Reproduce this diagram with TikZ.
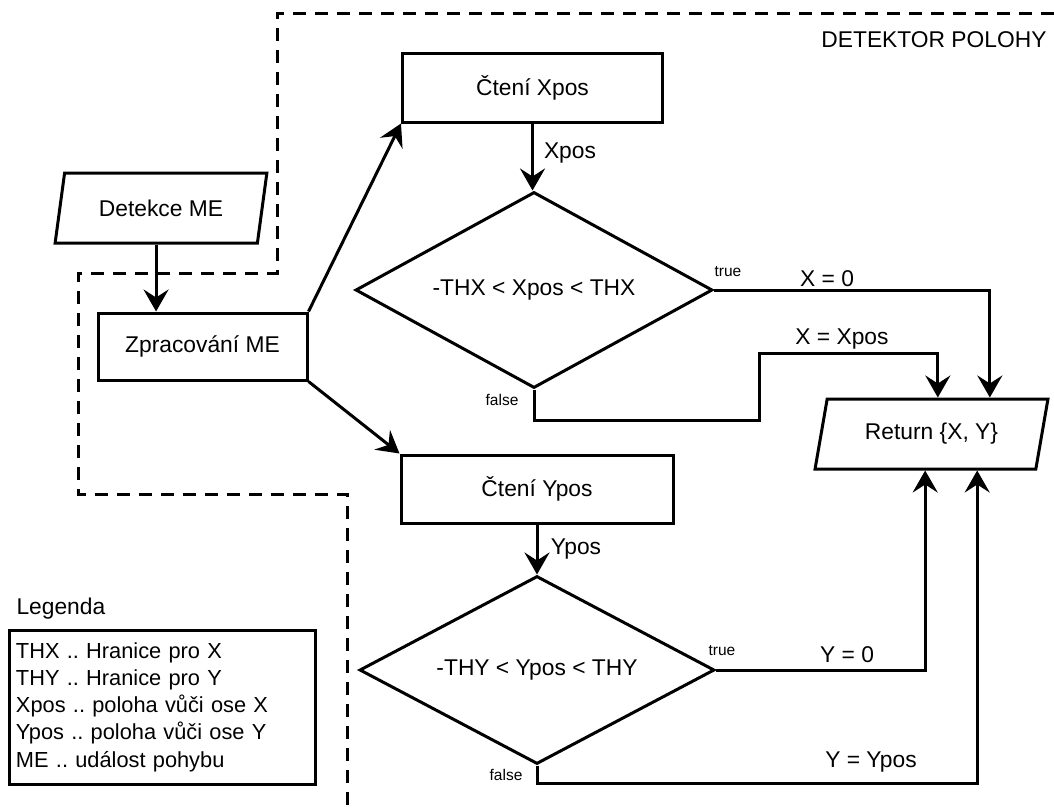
\documentclass[tikz,border=0pt]{standalone}
\usepackage{fontspec}
\setmainfont{Liberation Sans}
\usetikzlibrary{shapes.geometric,arrows.meta,calc}
\begin{document}
\frenchspacing
\begin{tikzpicture}[x=1pt,y=-1pt,
  line width=3pt,
  every node/.style={font=\fontsize{22.8}{27}\selectfont},
  box/.style={draw,rectangle,inner sep=0pt},
  io/.style={draw,trapezium,trapezium left angle=70,trapezium right angle=110,trapezium stretches=true,inner sep=0pt},
  decision/.style={draw,diamond,aspect=1.8,inner sep=0pt},
  lbl/.style={inner sep=0pt},
  small/.style={inner sep=0pt,font=\fontsize{15.5}{18}\selectfont},
  legendtext/.style={font=\fontsize{21.8}{27.2}\selectfont},
  arr/.style={-{Stealth[length=22pt,width=25pt,inset=8pt]}},
  border/.style={dash pattern=on 13pt off 9pt}]
\useasboundingbox (0,0) rectangle (1054,809);

% dashed boundary
\draw[border] (1054,13) -- (277,13) -- (277,273) -- (78,273) -- (78,494) -- (347,494) -- (347,809);
\node[lbl,anchor=east] (title) at (1048,40) {DETEKTOR POLOHY};

% nodes
\node[io,minimum width=212,minimum height=70] (det) at (161,208) {Detekce ME};
\node[box,minimum width=209,minimum height=67] (zpr) at (202.5,346.5) {Zpracování ME};
\node[box,minimum width=260,minimum height=69] (cx) at (532.5,87.5) {Čtení Xpos};
\node[box,minimum width=272,minimum height=68] (cy) at (537,489) {Čtení Ypos};
\node[decision,minimum width=357,minimum height=196] (dx) at (534,290) {-THX < Xpos < THX};
\node[decision,minimum width=355,minimum height=188] (dy) at (537,670) {-THY < Ypos < THY};
\node[io,minimum width=233,minimum height=70] (ret) at (931.5,434) {Return \{X, Y\}};

% connectors
\draw[arr] (det.bottom side) -- (det.bottom side |- zpr.north);
\draw[arr] (zpr.north east) -- (cx.south west);
\draw[arr] (zpr.south east) -- (cy.north west);
\draw[arr] (cx.south) -- (cx.south |- dx.north);
\draw[arr] (cy.south) -- (dy.north);

\draw[arr] (dx.east) -| ([xshift=52]ret.top side);
\coordinate (xa) at (759,420);
\coordinate (xb) at (759,353);
\draw[arr] (dx.south) |- (xa) -- (xb) -| (ret.top side);
\draw[arr] (dy.east) -| (ret.bottom side);
\draw[arr] (dy.south) -- ++(0,18) -| ([xshift=52]ret.bottom side);

% labels
\node[lbl] (lxpos) at (570,153) {Xpos};
\node[lbl] (lypos) at (576,549) {Ypos};
\node[small] (tx) at (728,272) {true};
\node[small] (fx) at (502,400) {false};
\node[small] (ty) at (722,651) {true};
\node[small] (fy) at (506,775) {false};
\node[lbl] (lx0) at (827,279) {X = 0};
\node[lbl] (lxx) at (842,339) {X = Xpos};
\node[lbl] (ly0) at (847,655) {Y = 0};
\node[lbl] (lyy) at (871,762) {Y = Ypos};

% legend
\node[lbl,anchor=west] (leghead) at (15,609) {Legenda};
\node[draw,rectangle,legendtext,minimum width=306,minimum height=154,text width=292,align=left,inner sep=7pt] (leg) at (162,707)
 {THX .. Hranice pro X\\THY .. Hranice pro Y\\Xpos .. poloha vůči ose X\\Ypos .. poloha vůči ose Y\\ME .. událost pohybu};
\end{tikzpicture}
\end{document}
